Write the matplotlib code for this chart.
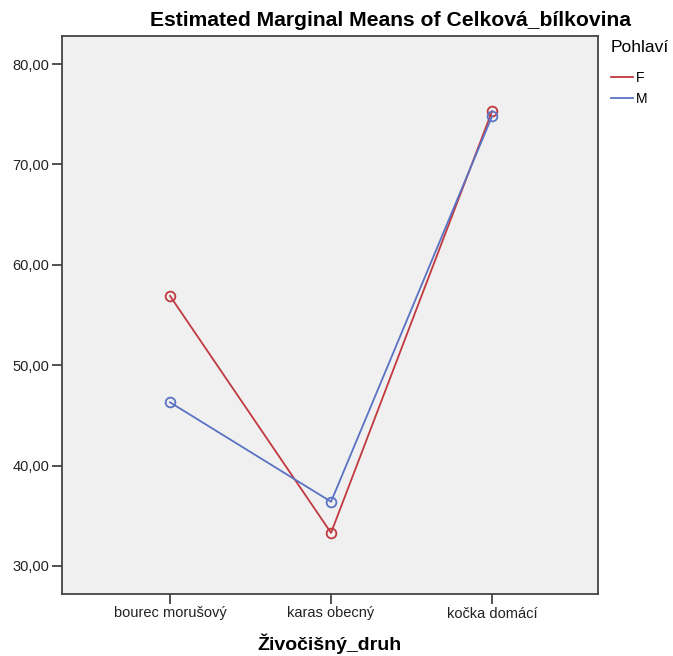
import matplotlib.pyplot as plt
from matplotlib.lines import Line2D

plt.rcParams['font.family'] = ['Liberation Sans', 'DejaVu Sans']

# Data
categories = ['bourec morušový', 'karas obecný', 'kočka domácí']
groups = ['F', 'M']
means_f = [56.9, 33.3, 75.3]
means_m = [46.3, 36.4, 74.8]
y_ticks = [30, 40, 50, 60, 70, 80]
y_tick_labels = ['30,00', '40,00', '50,00', '60,00', '70,00', '80,00']

red = '#c0393f'
blue = '#5a72c4'

fig = plt.figure(figsize=(6.73, 6.56), dpi=100)
ax = fig.add_axes([62 / 673, 62 / 656, 536 / 673, 558 / 656])
ax.set_facecolor('#f0f0f0')

x = list(range(len(categories)))
ax.plot(x, means_f, color=red, lw=1.3, marker='o', markersize=7,
        markerfacecolor='none', markeredgewidth=1.3)
ax.plot(x, means_m, color=blue, lw=1.3, marker='o', markersize=7,
        markerfacecolor='none', markeredgewidth=1.3)

ax.set_xlim(-0.671, 2.658)
ax.set_ylim(27.21, 82.79)
ax.set_xticks(x)
ax.set_xticklabels(categories, fontsize=10.5)
ax.set_yticks(y_ticks)
ax.set_yticklabels(y_tick_labels, fontsize=10.5)
ax.tick_params(length=7, width=1.2, color='#333333', labelcolor='#222222', pad=2)

for s in ax.spines.values():
    s.set_color('#444444')
    s.set_linewidth(1.3)

ax.set_xlabel('Živočišný_druh', fontsize=14, fontweight='bold', labelpad=9)
fig.text(390 / 673, 1 - 20 / 656, 'Estimated Marginal Means of Celková_bílkovina',
         fontsize=15.2, fontweight='bold', ha='center', va='center')

# Legend (lines only, like SPSS)
handles = [Line2D([], [], color=red, lw=1.3), Line2D([], [], color=blue, lw=1.3)]
leg = ax.legend(handles, groups, title='Pohlaví', loc='upper left',
                bbox_to_anchor=(1.003, 1.012), frameon=False, fontsize=10,
                title_fontsize=12.5, handlelength=1.6, handletextpad=0.2,
                labelspacing=0.55, alignment='left', borderpad=0.3)
leg._legend_box.sep = 11

plt.savefig('out.png', dpi=100)
